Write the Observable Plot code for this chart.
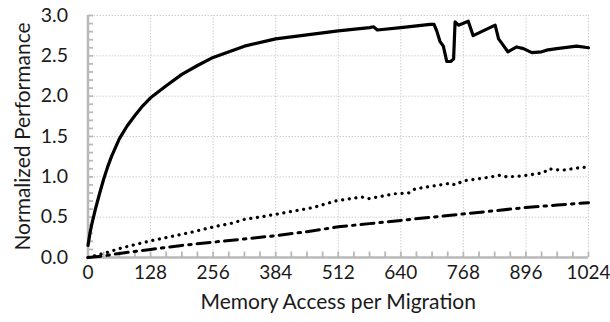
<!DOCTYPE html>
<html>
<head>
<meta charset="utf-8">
<script src="https://cdn.jsdelivr.net/npm/d3@7"></script>
<script src="https://cdn.jsdelivr.net/npm/@observablehq/plot@0.6"></script>
<style>
  html, body { margin: 0; padding: 0; background: #fff; }
  svg { display: block; }
</style>
</head>
<body>
<div id="chart"></div>
<script>
// Solid series
const solidX = [0, 4, 8, 12, 16, 24, 32, 40, 48, 64, 80, 96, 112, 128, 160, 192, 224, 256, 320, 384, 448, 512, 576, 584, 592, 640, 700, 708, 714, 720, 727, 734, 742, 748, 751, 758, 778, 788, 833, 840, 846, 859, 877, 891, 908, 928, 938, 959, 1000, 1024];
const solidY = [0.15, 0.30, 0.42, 0.52, 0.62, 0.80, 0.97, 1.12, 1.25, 1.47, 1.63, 1.76, 1.88, 1.98, 2.13, 2.27, 2.38, 2.48, 2.62, 2.71, 2.76, 2.81, 2.85, 2.86, 2.82, 2.85, 2.89, 2.89, 2.80, 2.68, 2.62, 2.43, 2.43, 2.46, 2.92, 2.88, 2.93, 2.75, 2.88, 2.71, 2.66, 2.55, 2.61, 2.59, 2.54, 2.55, 2.57, 2.59, 2.62, 2.60];
// Dotted series
const dotX = [0, 32, 64, 96, 131, 170, 209, 257, 298, 318, 360, 407, 461, 506, 516, 560, 574, 628, 656, 669, 741, 751, 768, 816, 843, 857, 887, 932, 942, 969, 1013, 1024];
const dotY = [0.00, 0.05, 0.11, 0.16, 0.21, 0.26, 0.31, 0.38, 0.43, 0.47, 0.51, 0.56, 0.62, 0.70, 0.71, 0.75, 0.73, 0.79, 0.80, 0.85, 0.92, 0.90, 0.95, 0.99, 1.02, 1.00, 1.01, 1.05, 1.10, 1.08, 1.12, 1.11];
// Dash-dot series
const dashX = [0, 32, 64, 128, 192, 256, 320, 384, 448, 512, 576, 640, 704, 768, 832, 896, 960, 1024];
const dashY = [0.00, 0.02, 0.05, 0.10, 0.15, 0.19, 0.23, 0.27, 0.32, 0.38, 0.42, 0.46, 0.50, 0.54, 0.58, 0.62, 0.65, 0.68];

const xTicks = [0, 128, 256, 384, 512, 640, 768, 896, 1024];
const yTicks = [0, 0.5, 1.0, 1.5, 2.0, 2.5, 3.0];
const xMinor = d3.range(0, 1025, 32);
const yMinor = d3.range(0, 31).map(i => i / 10);
const xTitle = "Memory Access per Migration";
const yTitle = "Normalized Performance";

const solid = solidX.map((x, i) => ({x, y: solidY[i]}));
const dotted = dotX.map((x, i) => ({x, y: dotY[i]}));
const dashdot = dashX.map((x, i) => ({x, y: dashY[i]}));

const W = 610, H = 322, ML = 87.5, MR = 22, MT = 15, MB = 65;
const frameW = W - ML - MR, frameH = H - MT - MB, tickLen = 5.5;
const font = "Lato, 'Open Sans', sans-serif";
const axisGray = "#b8b8b8";

const chart = Plot.plot({
  width: W,
  height: H,
  marginLeft: ML,
  marginRight: MR,
  marginTop: MT,
  marginBottom: MB,
  style: {fontFamily: font, color: "#1a1a1a", background: "#fff"},
  x: {domain: [0, 1024], axis: null},
  y: {domain: [0, 3], axis: null},
  marks: [
    Plot.gridX(xTicks, {stroke: "#cfcfcf", strokeOpacity: 1, strokeDasharray: "1.5,1.5"}),
    Plot.gridY(yTicks, {stroke: "#cfcfcf", strokeOpacity: 1, strokeDasharray: "1.5,1.5"}),
    Plot.tickY(yMinor, {y: d => d, insetRight: frameW - tickLen, stroke: axisGray, strokeWidth: 1.8}),
    Plot.tickX(xMinor, {x: d => d, insetTop: frameH - tickLen, stroke: axisGray, strokeWidth: 1.8}),
    Plot.ruleX([0], {stroke: axisGray, strokeWidth: 2.5}),
    Plot.ruleY([0], {stroke: axisGray, strokeWidth: 2.5}),
    Plot.axisY(yTicks, {anchor: "left", tickSize: 0, tickPadding: 20, tickFormat: d => d.toFixed(1), fontSize: 19.5, label: null}),
    Plot.axisX(xTicks, {anchor: "bottom", tickSize: 0, tickPadding: 8, tickFormat: d => String(d), fontSize: 19, label: null}),
    Plot.text([xTitle], {frameAnchor: "bottom", dy: 45, fontSize: 21, lineAnchor: "middle", textAnchor: "middle"}),
    Plot.text([yTitle], {frameAnchor: "left", dx: -65, rotate: -90, fontSize: 21, lineAnchor: "middle", textAnchor: "middle"}),
    Plot.line(dashdot, {x: "x", y: "y", stroke: "#000", strokeWidth: 3, strokeDasharray: "13,6,2.5,6"}),
    Plot.line(dotted, {x: "x", y: "y", stroke: "#000", strokeWidth: 3.2, strokeLinecap: "round", strokeDasharray: "0.1,6.6"}),
    Plot.line(solid, {x: "x", y: "y", stroke: "#000", strokeWidth: 3.2, strokeLinejoin: "round", strokeLinecap: "round"})
  ]
});
document.getElementById("chart").appendChild(chart);
</script>
</body>
</html>
